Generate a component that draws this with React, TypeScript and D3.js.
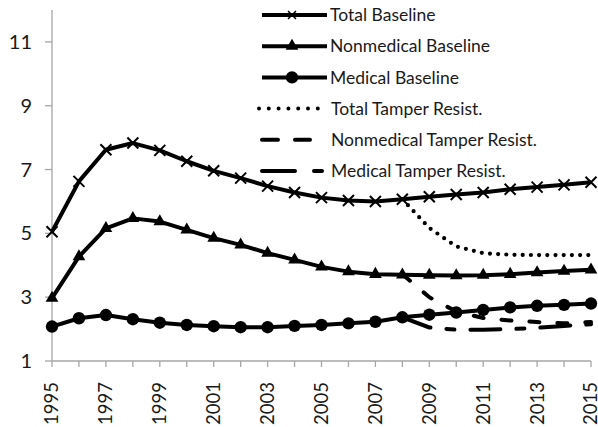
import React from "react";
import * as d3 from "d3";

const years = [1995, 1996, 1997, 1998, 1999, 2000, 2001, 2002, 2003, 2004, 2005, 2006, 2007, 2008, 2009, 2010, 2011, 2012, 2013, 2014, 2015];
const yearLabels = [1995, 1997, 1999, 2001, 2003, 2005, 2007, 2009, 2011, 2013, 2015];
const yTicks = [1, 3, 5, 7, 9, 11];

const totalBaseline = [5.05, 6.63, 7.62, 7.83, 7.6, 7.26, 6.96, 6.73, 6.48, 6.28, 6.12, 6.03, 6.0, 6.07, 6.15, 6.22, 6.28, 6.38, 6.45, 6.52, 6.6];
const nonmedBaseline = [2.97, 4.27, 5.16, 5.47, 5.37, 5.11, 4.85, 4.64, 4.38, 4.17, 3.95, 3.8, 3.72, 3.7, 3.69, 3.68, 3.69, 3.72, 3.77, 3.82, 3.86];
const medBaseline = [2.08, 2.34, 2.44, 2.31, 2.2, 2.13, 2.09, 2.06, 2.06, 2.1, 2.13, 2.18, 2.23, 2.37, 2.45, 2.52, 2.6, 2.68, 2.73, 2.76, 2.8];

const tamperYears = [2008, 2009, 2010, 2011, 2012, 2013, 2014, 2015];
const totalTamper = [6.07, 5.17, 4.59, 4.38, 4.33, 4.32, 4.32, 4.32];
const nonmedTamper = [3.72, 3.0, 2.55, 2.35, 2.27, 2.22, 2.18, 2.22];
const medTamper = [2.37, 2.05, 1.98, 1.98, 2.0, 2.04, 2.1, 2.15];

const legendLabels = [
  "Total Baseline",
  "Nonmedical Baseline",
  "Medical Baseline",
  "Total Tamper Resist.",
  "Nonmedical Tamper Resist.",
  "Medical Tamper Resist.",
];

const W = 598;
const H = 427;
const FONT = "Lato, 'Open Sans', sans-serif";

type Marker = "x" | "tri" | "dot";

function MarkerShape({ kind, x, y }: { kind: Marker; x: number; y: number }) {
  if (kind === "x") {
    const s = 5.5;
    return (
      <path
        d={`M${x - s},${y - s}L${x + s},${y + s}M${x - s},${y + s}L${x + s},${y - s}`}
        stroke="#000"
        strokeWidth={2}
        fill="none"
      />
    );
  }
  if (kind === "tri") {
    const sym = d3.symbol().type(d3.symbolTriangle).size(70)();
    return <path d={sym || ""} transform={`translate(${x},${y})`} fill="#000" />;
  }
  return <circle cx={x} cy={y} r={6.2} fill="#000" />;
}

export default function App() {
  const x = d3.scaleLinear().domain([1995, 2015]).range([52, 591]);
  const y = d3.scaleLinear().domain([1, 12]).range([361, 10]);
  const line = d3
    .line<[number, number]>()
    .x((d) => x(d[0]))
    .y((d) => y(d[1]));

  const pair = (xs: number[], vs: number[]) => xs.map((yr, i) => [yr, vs[i]] as [number, number]);

  const baselines: { vals: number[]; marker: Marker }[] = [
    { vals: totalBaseline, marker: "x" },
    { vals: nonmedBaseline, marker: "tri" },
    { vals: medBaseline, marker: "dot" },
  ];

  const tampers = [
    { vals: totalTamper, dash: "0 8.2", width: 4.2 },
    { vals: nonmedTamper, dash: "10 18", width: 4 },
    { vals: medTamper, dash: "30 16 8 16", width: 4 },
  ];

  const legendY = (i: number) => 15 + i * 31.2;
  const lx0 = 262;
  const lx1 = 327;

  return (
    <svg
      width={W}
      height={H}
      style={{ position: "absolute", left: 0, top: 0, background: "#fff" }}
      fontFamily={FONT}
    >
      <rect width={W} height={H} fill="#fff" />
      {/* axes */}
      <line x1={x(1995)} x2={x(1995)} y1={y(12)} y2={y(1)} stroke="#a6a6a6" strokeWidth={1.3} />
      <line x1={x(1995)} x2={x(2015)} y1={y(1)} y2={y(1)} stroke="#a6a6a6" strokeWidth={1.3} />
      {yTicks.map((t) => (
        <g key={t}>
          <line x1={x(1995) - 7} x2={x(1995)} y1={y(t)} y2={y(t)} stroke="#a6a6a6" strokeWidth={1.3} />
          <text x={32} y={y(t)} dy="0.35em" textAnchor="end" fontSize={20} fill="#1a1a1a">
            {t}
          </text>
        </g>
      ))}
      {years.map((yr) => (
        <line key={yr} x1={x(yr)} x2={x(yr)} y1={y(1)} y2={y(1) + 6} stroke="#a6a6a6" strokeWidth={1.3} />
      ))}
      {yearLabels.map((yr) => (
        <text
          key={yr}
          transform={`translate(${x(yr)},382) rotate(-90)`}
          dy="0.35em"
          textAnchor="end"
          fontSize={18.5}
          fill="#1a1a1a"
        >
          {yr}
        </text>
      ))}

      {/* tamper lines */}
      {tampers.map((t, i) => (
        <path
          key={i}
          d={line(pair(tamperYears, t.vals)) || ""}
          fill="none"
          stroke="#000"
          strokeWidth={t.width}
          strokeDasharray={t.dash}
          strokeLinecap="round"
        />
      ))}

      {/* baseline lines */}
      {baselines.map((b, i) => (
        <g key={i}>
          <path
            d={line(pair(years, b.vals)) || ""}
            fill="none"
            stroke="#000"
            strokeWidth={4}
            strokeLinejoin="round"
          />
          {years.map((yr, j) => (
            <MarkerShape key={yr} kind={b.marker} x={x(yr)} y={y(b.vals[j])} />
          ))}
        </g>
      ))}

      {/* legend */}
      {legendLabels.map((lab, i) => {
        const ly = legendY(i);
        let sample: React.ReactNode = null;
        if (i < 3) {
          sample = (
            <g>
              <line x1={lx0} x2={lx1} y1={ly} y2={ly} stroke="#000" strokeWidth={4} />
              {i === 0 ? (
                <path
                  d={`M${292 - 4},${ly - 4}L${292 + 4},${ly + 4}M${292 - 4},${ly + 4}L${292 + 4},${ly - 4}`}
                  stroke="#000"
                  strokeWidth={1.5}
                />
              ) : (
                <MarkerShape kind={i === 1 ? "tri" : "dot"} x={292} y={ly} />
              )}
            </g>
          );
        } else if (i === 3) {
          sample = (
            <line x1={259} x2={318} y1={ly} y2={ly} stroke="#000" strokeWidth={4} strokeDasharray="0 9.8" strokeLinecap="round" />
          );
        } else if (i === 4) {
          sample = (
            <line x1={262} x2={310} y1={ly} y2={ly} stroke="#000" strokeWidth={4} strokeDasharray="16 17" strokeLinecap="round" />
          );
        } else {
          sample = (
            <line x1={262} x2={322} y1={ly} y2={ly} stroke="#000" strokeWidth={4} strokeDasharray="33 19 8 100" strokeLinecap="round" />
          );
        }
        return (
          <g key={lab}>
            {sample}
            <text x={i >= 3 ? 331 : 330} y={ly} dy="0.35em" fontSize={17.5} fill="#1a1a1a">
              {lab}
            </text>
          </g>
        );
      })}
    </svg>
  );
}
